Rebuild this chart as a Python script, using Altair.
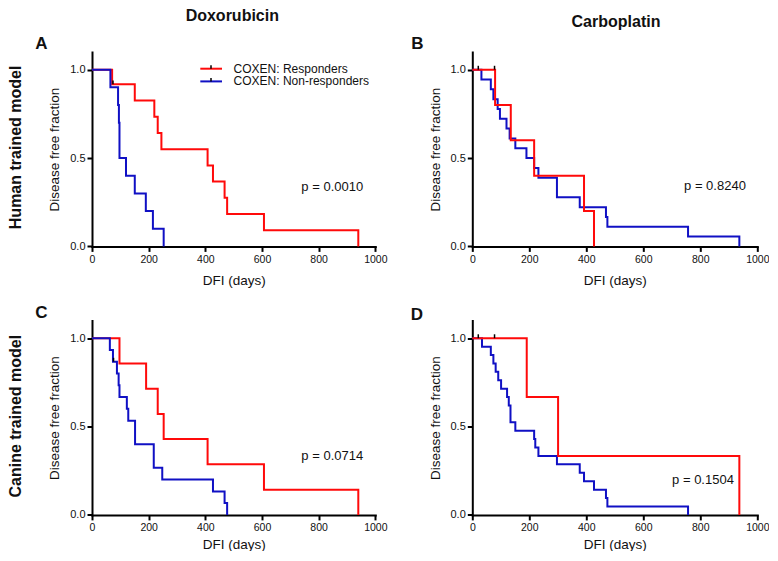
import altair as alt
import pandas as pd

FONT = "Liberation Sans"
RED = "#ff0a0a"
BLUE = "#1010c4"
INK = "#111111"

# ---------------- data ----------------
# A: Doxorubicin, human trained model
a_resp_days = [0, 71, 151, 220, 232, 245, 408, 427, 468, 477, 607, 940]
a_resp_frac = [1, 0.917, 0.825, 0.733, 0.642, 0.55, 0.458, 0.367, 0.275, 0.183, 0.092, 0]
a_non_days = [0, 65, 92, 95, 97, 120, 151, 190, 215, 253]
a_non_frac = [1, 0.9, 0.8, 0.7, 0.5, 0.4, 0.3, 0.2, 0.1, 0]
a_cens_days = [74]
a_cens_frac = [0.917]
a_p = "p = 0.0010"

# B: Carboplatin, human trained model
b_resp_days = [0, 80, 135, 217, 392, 427]
b_resp_frac = [1, 0.8, 0.6, 0.4, 0.2, 0]
b_non_days = [0, 32, 65, 74, 89, 97, 120, 131, 151, 190, 217, 232, 297, 377, 469, 474, 757, 937]
b_non_frac = [1, 0.944, 0.889, 0.833, 0.778, 0.722, 0.667, 0.611, 0.556, 0.5, 0.444, 0.389,
              0.278, 0.222, 0.167, 0.111, 0.056, 0]
b_cens_days = [21, 78]
b_cens_frac = [1, 1]
b_p = "p = 0.8240"

# C: Doxorubicin, canine trained model
c_resp_days = [0, 97, 191, 232, 253, 408, 607, 940]
c_resp_frac = [1, 0.857, 0.714, 0.571, 0.429, 0.286, 0.143, 0]
c_non_days = [0, 63, 74, 88, 94, 97, 123, 128, 152, 218, 248, 427, 468, 477]
c_non_frac = [1, 0.933, 0.867, 0.8, 0.733, 0.667, 0.6, 0.533, 0.4, 0.267, 0.2, 0.133, 0.067, 0]
c_cens_days = [76]
c_cens_frac = [0.867]
c_p = "p = 0.0714"

# D: Carboplatin, canine trained model
d_resp_days = [0, 191, 301, 937]
d_resp_frac = [1, 0.667, 0.333, 0]
d_non_days = [0, 34, 65, 74, 82, 91, 101, 122, 128, 134, 151, 217, 221, 232, 297, 377, 392,
              427, 469, 474, 757]
d_non_frac = [1, 0.952, 0.905, 0.857, 0.81, 0.762, 0.714, 0.667, 0.619, 0.524, 0.476, 0.429,
              0.381, 0.333, 0.286, 0.238, 0.19, 0.143, 0.095, 0.048, 0]
d_cens_days = [21, 78]
d_cens_frac = [1, 1]
d_p = "p = 0.1504"

x_ticks = [0, 200, 400, 600, 800, 1000]
y_ticks = [0, 0.5, 1.0]

HEIGHT = 194.4
W_LEFT = 283.3
W_RIGHT = 285


def txt(s, x, y, size, weight="normal", angle=0, align="center"):
    return alt.Chart(pd.DataFrame({"t": [s]})).mark_text(
        font=FONT, fontSize=size, fontWeight=weight, angle=angle, align=align,
        baseline="middle", color=INK
    ).encode(x=alt.value(x), y=alt.value(y), text="t:N")


def legend_layers():
    rows = pd.DataFrame({"t": ["COXEN: Responders", "COXEN: Non-responders"]})
    out = []
    for i, (col, yy) in enumerate([(RED, 16.7), (BLUE, 29.4)]):
        out.append(alt.Chart(rows.iloc[[i]]).mark_rule(color=col, strokeWidth=2).encode(
            x=alt.value(108.3), x2=alt.value(130), y=alt.value(yy)))
        out.append(alt.Chart(rows.iloc[[i]]).mark_rule(color="black", strokeWidth=1.5).encode(
            x=alt.value(119), y=alt.value(yy - 3.5), y2=alt.value(yy)))
        out.append(alt.Chart(rows.iloc[[i]]).mark_text(
            font=FONT, fontSize=12, align="left", baseline="middle", color=INK
        ).encode(x=alt.value(141.6), y=alt.value(yy), text="t:N"))
    return out


def panel(resp, non, cens, ptext, p_pos, width, red_on_top, extras, xtitle_pad):
    X = alt.X("day:Q", scale=alt.Scale(domain=[0, 1000], nice=False, zero=True),
              axis=alt.Axis(values=x_ticks, format="d", title="DFI (days)",
                            titlePadding=xtitle_pad, labelPadding=3, labelFontSize=10.5))
    Y = alt.Y("frac:Q", scale=alt.Scale(domain=[0, 1.1], nice=False),
              axis=alt.Axis(values=y_ticks, format=".1f", title="Disease free fraction",
                            titlePadding=8, labelPadding=2))
    red = alt.Chart(pd.DataFrame({"day": resp[0], "frac": resp[1]})).mark_line(
        interpolate="step-after", color=RED, strokeWidth=2).encode(x=X, y=Y)
    blue = alt.Chart(pd.DataFrame({"day": non[0], "frac": non[1]})).mark_line(
        interpolate="step-after", color=BLUE, strokeWidth=2).encode(x=X, y=Y)
    cdf = pd.DataFrame({"day": cens[0], "frac": cens[1]})
    cdf["top"] = cdf["frac"] + 0.022
    ticks = alt.Chart(cdf).mark_rule(color="black", strokeWidth=1.5).encode(
        x=X, y=Y, y2="top:Q")
    pdf = pd.DataFrame({"day": [p_pos[0]], "frac": [p_pos[1]], "t": [ptext]})
    ptxt = alt.Chart(pdf).mark_text(font=FONT, fontSize=13, align="left",
                                    baseline="middle", color=INK).encode(x=X, y=Y, text="t:N")
    lines = [blue, red] if red_on_top else [red, blue]
    return alt.layer(*lines, ticks, ptxt, *extras).properties(width=width, height=HEIGHT)


A = panel((a_resp_days, a_resp_frac), (a_non_days, a_non_frac), (a_cens_days, a_cens_frac),
          a_p, (739, 0.335), W_LEFT, False,
          [txt("Doxorubicin", 140.3, -36, 16, "bold"),
           txt("A", -50.7, -7.6, 17, "bold"),
           txt("Human trained model", -75.7, 95.4, 16, "bold", angle=270)] + legend_layers(),
          9)

B = panel((b_resp_days, b_resp_frac), (b_non_days, b_non_frac), (b_cens_days, b_cens_frac),
          b_p, (743, 0.34), W_RIGHT, True,
          [txt("Carboplatin", 143.7, -29.6, 16, "bold"),
           txt("B", -54.8, -7.6, 17, "bold")],
          9)

C = panel((c_resp_days, c_resp_frac), (c_non_days, c_non_frac), (c_cens_days, c_cens_frac),
          c_p, (739, 0.332), W_LEFT, False,
          [txt("C", -50.7, -7.3, 17, "bold"),
           txt("Canine trained model", -75.7, 95.7, 16, "bold", angle=270)],
          4)

D = panel((d_resp_days, d_resp_frac), (d_non_days, d_non_frac), (d_cens_days, d_cens_frac),
          d_p, (701, 0.2), W_RIGHT, True,
          [txt("D", -55.3, -5.3, 17, "bold")],
          4)

chart = alt.concat(
    A, B, C, D, columns=2, bounds="flush",
    spacing={"row": 73.5, "column": 96.3}
).properties(
    padding={"left": 0, "top": 0, "right": 0, "bottom": 0}
).configure_view(stroke=None).configure_axis(
    domainColor="black", domainWidth=2, domainCap="square",
    tickColor="black", tickWidth=2, tickSize=5,
    labelFont=FONT, labelFontSize=11, labelColor=INK,
    titleFont=FONT, titleFontSize=13.5, titleFontWeight="normal", titleColor=INK,
    grid=False, labelFlush=False, labelOverlap=False
)

chart.save("out.html", embed_options={"renderer": "svg", "actions": False})
